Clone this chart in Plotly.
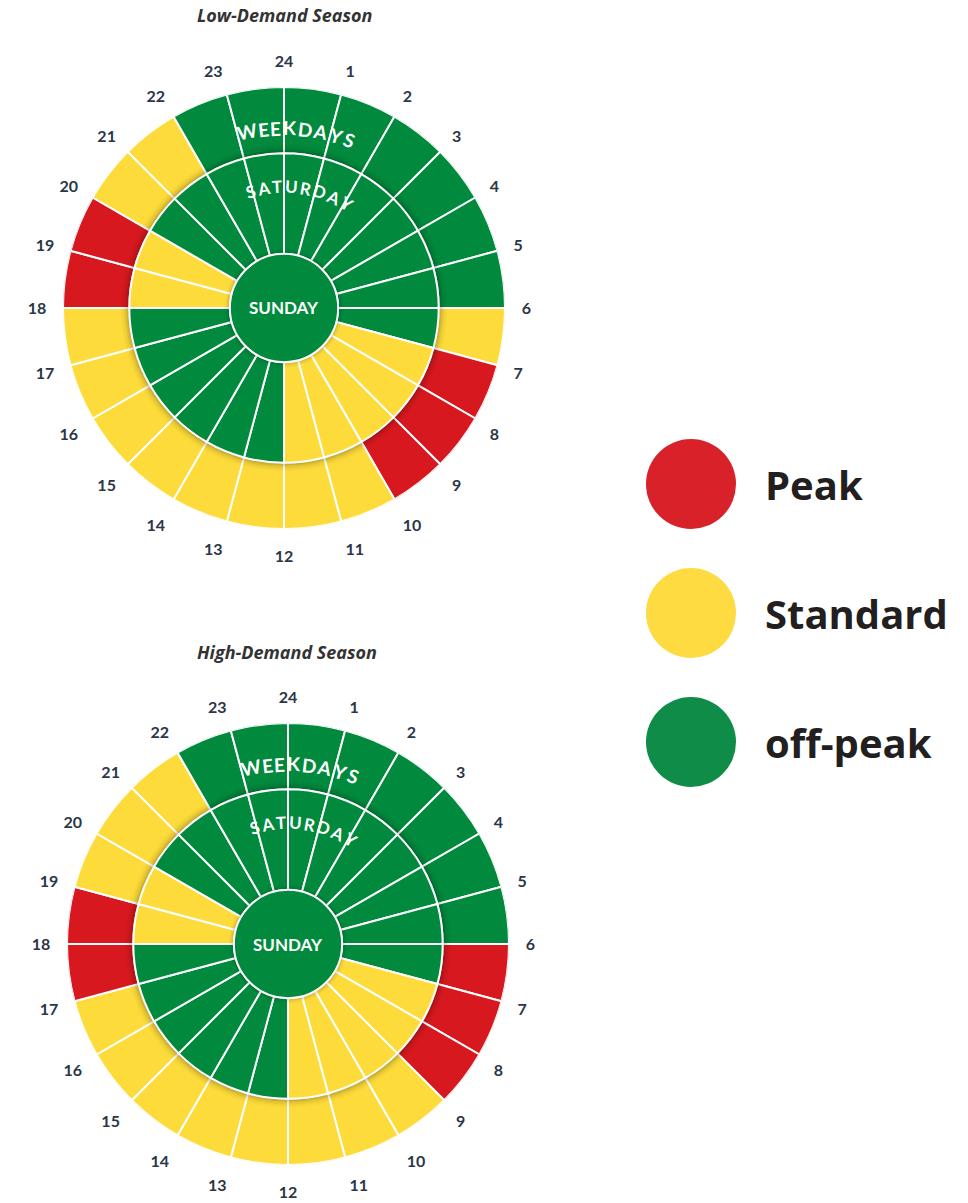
import numpy as np
import plotly.graph_objects as go

# ---------------- data ----------------
hour_labels = ['24'] + [str(h) for h in range(1, 24)]          # boundary labels, clockwise from top
tariff_names = ['Peak', 'Standard', 'off-peak']
tariff_colors = {'P': '#D7191F', 'S': '#FDDB3A', 'O': '#018A3D'}
legend_colors = ['#D92129', '#FDDB41', '#0F8C47']

# one code per hour slot (slot i = hour i .. i+1)
low_weekdays = ['O'] * 6 + ['S'] + ['P'] * 3 + ['S'] * 8 + ['P'] * 2 + ['S'] * 2 + ['O'] * 2
low_saturday = ['O'] * 7 + ['S'] * 5 + ['O'] * 6 + ['S'] * 2 + ['O'] * 4
low_sunday = ['O']
high_weekdays = ['O'] * 6 + ['P'] * 3 + ['S'] * 8 + ['P'] * 2 + ['S'] * 3 + ['O'] * 2
high_saturday = ['O'] * 7 + ['S'] * 5 + ['O'] * 6 + ['S'] * 2 + ['O'] * 4
high_sunday = ['O']

seasons = ['Low-Demand Season', 'High-Demand Season']
ring_names = ['WEEKDAYS', 'SATURDAY', 'SUNDAY']

# ---------------- layout geometry (pixels) ----------------
W, H = 968, 1203
R = 221
centers = [(284, 308), (288, 944)]
title_pos = [(284, 15), (287, 652)]
R_SUN, R_SAT = 0.245, 0.70

fig = go.Figure()

def add_season(k, weekdays, saturday, sunday):
    pid = 'polar' if k == 0 else 'polar2'
    slot_theta = [15 * i + 7.5 for i in range(24)]
    # weekdays (outer ring)
    fig.add_trace(go.Barpolar(
        theta=slot_theta, r=[1 - R_SAT] * 24, base=[R_SAT] * 24, width=[15] * 24,
        marker=dict(color=[tariff_colors[c] for c in weekdays], line=dict(color='white', width=2)),
        subplot=pid, showlegend=False, hoverinfo='skip'))
    # shadow cast by saturday ring
    for j, op in enumerate([0.28, 0.19, 0.12, 0.075, 0.04, 0.02]):
        fig.add_trace(go.Barpolar(
            theta=[180], r=[0.0065], base=[R_SAT + 0.0065 * j], width=[360],
            marker=dict(color=f'rgba(0,0,0,{op})', line=dict(width=0)),
            subplot=pid, showlegend=False, hoverinfo='skip'))
    # saturday (middle ring)
    fig.add_trace(go.Barpolar(
        theta=slot_theta, r=[R_SAT - R_SUN] * 24, base=[R_SUN] * 24, width=[15] * 24,
        marker=dict(color=[tariff_colors[c] for c in saturday], line=dict(color='white', width=2)),
        subplot=pid, showlegend=False, hoverinfo='skip'))
    for j, op in enumerate([0.2, 0.12, 0.06, 0.025]):
        fig.add_trace(go.Barpolar(
            theta=[180], r=[0.006], base=[R_SUN + 0.006 * j], width=[360],
            marker=dict(color=f'rgba(0,0,0,{op})', line=dict(width=0)),
            subplot=pid, showlegend=False, hoverinfo='skip'))
    # sunday (centre)
    fig.add_trace(go.Barpolar(
        theta=[180], r=[R_SUN], base=[0], width=[360],
        marker=dict(color=tariff_colors[sunday[0]], line=dict(color='white', width=2)),
        subplot=pid, showlegend=False, hoverinfo='skip'))

add_season(0, low_weekdays, low_saturday, low_sunday)
add_season(1, high_weekdays, high_saturday, high_sunday)

polar_common = dict(
    bgcolor='rgba(0,0,0,0)',
    radialaxis=dict(range=[0, 1], visible=False),
    angularaxis=dict(
        rotation=90, direction='clockwise',
        tickmode='array', tickvals=[15 * i for i in range(24)], ticktext=hour_labels,
        ticks='outside', ticklen=13, tickcolor='rgba(0,0,0,0)',
        showline=False, showgrid=False,
        tickfont=dict(family='Lato', size=16, color='#2B3647', weight='bold')),
)

def domain(c):
    cx, cy = c
    return dict(x=[(cx - R) / W, (cx + R) / W], y=[(H - cy - R) / H, (H - cy + R) / H])

annotations = []
LETTER_W = {'W': 1.45, 'E': 0.85, 'K': 1.0, 'D': 1.1, 'A': 1.05, 'Y': 1.0, 'S': 0.85,
            'T': 0.95, 'U': 1.05, 'R': 1.0}

def arc_text(text, cx, cy, r_px, a0, a1, size):
    widths = [LETTER_W[ch] for ch in text]
    cum = np.cumsum([0] + widths)
    mids = (cum[:-1] + cum[1:]) / 2
    mids = (mids - mids[0]) / (mids[-1] - mids[0])
    for ch, f in zip(text, mids):
        a = a0 + (a1 - a0) * f
        x = cx + r_px * np.sin(np.radians(a))
        y = cy - r_px * np.cos(np.radians(a))
        annotations.append(dict(
            x=x / W, y=1 - y / H, xref='paper', yref='paper', text=ch, showarrow=False,
            textangle=a, xanchor='center', yanchor='middle',
            font=dict(family='Lato', size=size, color='white', weight='bold')))

for k, (cx, cy) in enumerate(centers):
    arc_text(ring_names[0], cx, cy, 0.815 * R, -12, 21, 19)
    arc_text(ring_names[1], cx, cy, 0.55 * R, -16, 31, 17)
    annotations.append(dict(
        x=cx / W, y=1 - cy / H, xref='paper', yref='paper', text=ring_names[2], showarrow=False,
        xanchor='center', yanchor='middle',
        font=dict(family='Lato', size=17, color='white', weight='bold')))
    tx, ty = title_pos[k]
    annotations.append(dict(
        x=tx / W, y=1 - ty / H, xref='paper', yref='paper', text=seasons[k],
        showarrow=False, xanchor='center', yanchor='middle',
        font=dict(family='Open Sans', size=18, color='#333333', weight='bold', style='italic')))

# legend
shapes = []
legend_y = [484, 613, 742]
for name, col, ly in zip(tariff_names, legend_colors, legend_y):
    shapes.append(dict(type='circle', xref='paper', yref='paper',
                       x0=(691 - 45) / W, x1=(691 + 45) / W,
                       y0=1 - (ly + 45) / H, y1=1 - (ly - 45) / H,
                       fillcolor=col, line=dict(width=0)))
    annotations.append(dict(
        x=763 / W, y=1 - ly / H, xref='paper', yref='paper', text=name, showarrow=False,
        xanchor='left', yanchor='middle',
        font=dict(family='Open Sans', size=40, color='#231F20', weight='bold')))

fig.update_layout(
    width=W, height=H, margin=dict(l=0, r=0, t=0, b=0),
    paper_bgcolor='white', plot_bgcolor='white',
    polar=dict(domain=domain(centers[0]), **polar_common),
    polar2=dict(domain=domain(centers[1]), **polar_common),
    annotations=annotations, shapes=shapes, showlegend=False,
)

fig.write_html('out.html', config={'displayModeBar': False},
               post_script="document.body.style.margin='0';document.body.style.overflow='hidden';")
